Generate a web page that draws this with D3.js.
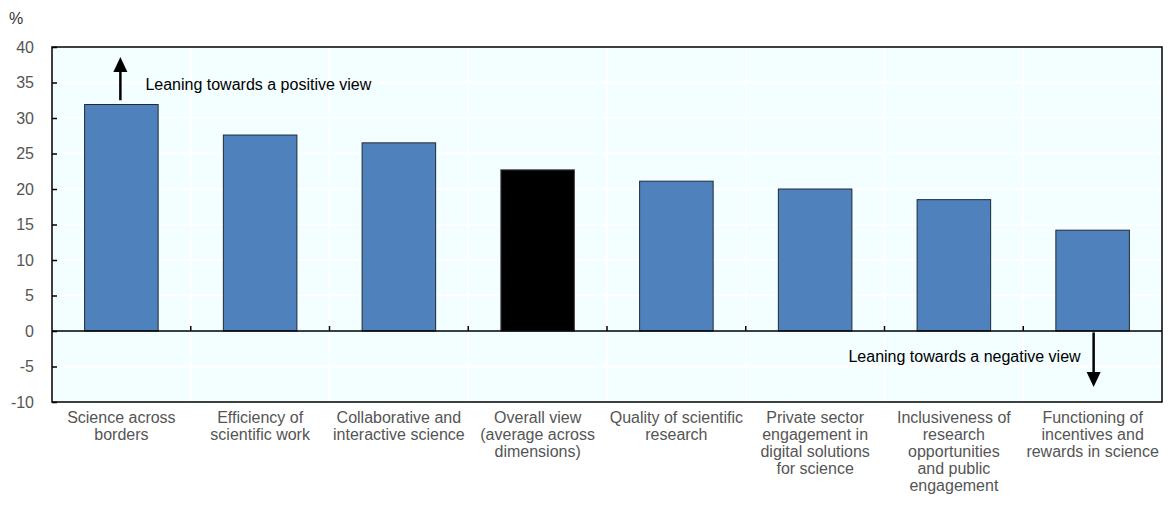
<!DOCTYPE html>
<html>
<head>
<meta charset="utf-8">
<script src="https://cdn.jsdelivr.net/npm/d3@7"></script>
<style>
  body { margin: 0; background: #fff; }
  text { font-family: "Liberation Sans", Arial, sans-serif; }
</style>
</head>
<body>
<div id="chart"></div>
<script>
// category labels (line breaks as in the original)
const categories = [
    ["Science across", "borders"],
    ["Efficiency of", "scientific work"],
    ["Collaborative and", "interactive science"],
    ["Overall view", "(average across", "dimensions)"],
    ["Quality of scientific", "research"],
    ["Private sector", "engagement in", "digital solutions", "for science"],
    ["Inclusiveness of", "research", "opportunities", "and public", "engagement"],
    ["Functioning of", "incentives and", "rewards in science"]
];
const values = [31.9, 27.6, 26.5, 22.7, 21.1, 20.0, 18.5, 14.2];
const highlight = [false, false, false, true, false, false, false, false];
const yTicks = [-10, -5, 0, 5, 10, 15, 20, 25, 30, 35, 40];

const W = 1169, H = 521;
const margin = {top: 47, right: 7, bottom: 119, left: 52};
const width = W - margin.left - margin.right,
    height = H - margin.top - margin.bottom;

const svg = d3.select("#chart")
    .append("svg")
    .attr("width", W)
    .attr("height", H);

const g = svg.append("g")
    .attr("transform", `translate(${margin.left},${margin.top})`);

const keys = categories.map((d, i) => i);
const x = d3.scaleBand()
    .domain(keys)
    .range([0, width])
    .paddingInner(0.47)
    .paddingOuter(0.235);
const step = width / categories.length;

const y = d3.scaleLinear()
    .domain([-10, 40])
    .range([height, 0]);

// background
g.append("rect")
    .attr("width", width)
    .attr("height", height)
    .attr("fill", "#F2FEFF");

// gridlines
g.selectAll(".hgrid")
    .data(yTicks.filter(d => d !== 0 && d !== 40 && d !== -10))
    .enter()
    .append("line")
    .attr("x1", 0).attr("x2", width)
    .attr("y1", d => y(d)).attr("y2", d => y(d))
    .attr("stroke", "#fff").attr("stroke-width", 2);

g.selectAll(".vgrid")
    .data(d3.range(1, categories.length))
    .enter()
    .append("line")
    .attr("x1", d => d * step).attr("x2", d => d * step)
    .attr("y1", 0).attr("y2", height)
    .attr("stroke", "#fff").attr("stroke-width", 2);

// bars
g.selectAll(".bar")
    .data(values)
    .enter()
    .append("rect")
    .attr("x", (d, i) => x(i))
    .attr("y", d => y(d))
    .attr("width", x.bandwidth())
    .attr("height", d => y(0) - y(d))
    .attr("fill", (d, i) => highlight[i] ? "#000" : "#4F81BD")
    .attr("stroke", (d, i) => highlight[i] ? "#444" : "#1f2a36")
    .attr("stroke-width", 1);

// zero line with small ticks at category boundaries
g.append("line")
    .attr("x1", 0).attr("x2", width)
    .attr("y1", y(0)).attr("y2", y(0))
    .attr("stroke", "#000").attr("stroke-width", 1.5);
g.selectAll(".ztick")
    .data(d3.range(1, categories.length))
    .enter()
    .append("line")
    .attr("x1", d => d * step).attr("x2", d => d * step)
    .attr("y1", y(0)).attr("y2", y(0) - 5)
    .attr("stroke", "#000").attr("stroke-width", 1.5);

// frame
g.append("rect")
    .attr("width", width)
    .attr("height", height)
    .attr("fill", "none")
    .attr("stroke", "#000")
    .attr("stroke-width", 1.5);

// y axis
const yAxis = g.append("g")
    .call(d3.axisLeft(y).tickValues(yTicks).tickFormat(d => String(d))
        .tickSizeInner(-5).tickSizeOuter(0).tickPadding(18));
yAxis.select(".domain").remove();
yAxis.selectAll("line").attr("stroke", "#000").attr("stroke-width", 1.5);
yAxis.selectAll("text")
    .attr("font-size", 16)
    .attr("fill", "#555");

svg.append("text")
    .attr("x", 9).attr("y", 24)
    .attr("font-size", 16)
    .attr("fill", "#333")
    .text("%");

// x labels
const lbl = g.selectAll(".xlabel")
    .data(categories)
    .enter()
    .append("text")
    .attr("text-anchor", "middle")
    .attr("font-size", 16)
    .attr("fill", "#555")
    .attr("transform", (d, i) => `translate(${x(i) + x.bandwidth() / 2},${height + 21})`);
lbl.selectAll("tspan")
    .data(d => d)
    .enter()
    .append("tspan")
    .attr("x", 0)
    .attr("y", (d, i) => i * 17)
    .text(d => d);

// annotations: arrows drawn as shaft + triangle head
function arrow(cx, y0, y1) {
    const dir = y1 < y0 ? 1 : -1; // head points up if dir=1
    g.append("line")
        .attr("x1", cx).attr("x2", cx)
        .attr("y1", y0).attr("y2", y1 + dir * 12)
        .attr("stroke", "#000").attr("stroke-width", 2.5);
    g.append("path")
        .attr("d", `M${cx},${y1} L${cx - 7},${y1 + dir * 15} L${cx + 7},${y1 + dir * 15} Z`)
        .attr("fill", "#000");
}

const upX = x(0) + x.bandwidth() / 2 - 1;
arrow(upX, y(32.5), y(38.6));
g.append("text")
    .attr("x", upX + 25).attr("y", y(35) + 7)
    .attr("font-size", 16)
    .attr("fill", "#000")
    .text("Leaning towards a positive view");

const downX = x(7) + x.bandwidth() / 2 + 1;
arrow(downX, y(-0.2), y(-7.9));
g.append("text")
    .attr("x", downX - 13).attr("y", y(-3.5) + 6)
    .attr("text-anchor", "end")
    .attr("font-size", 16)
    .attr("fill", "#000")
    .text("Leaning towards a negative view");
</script>
</body>
</html>
